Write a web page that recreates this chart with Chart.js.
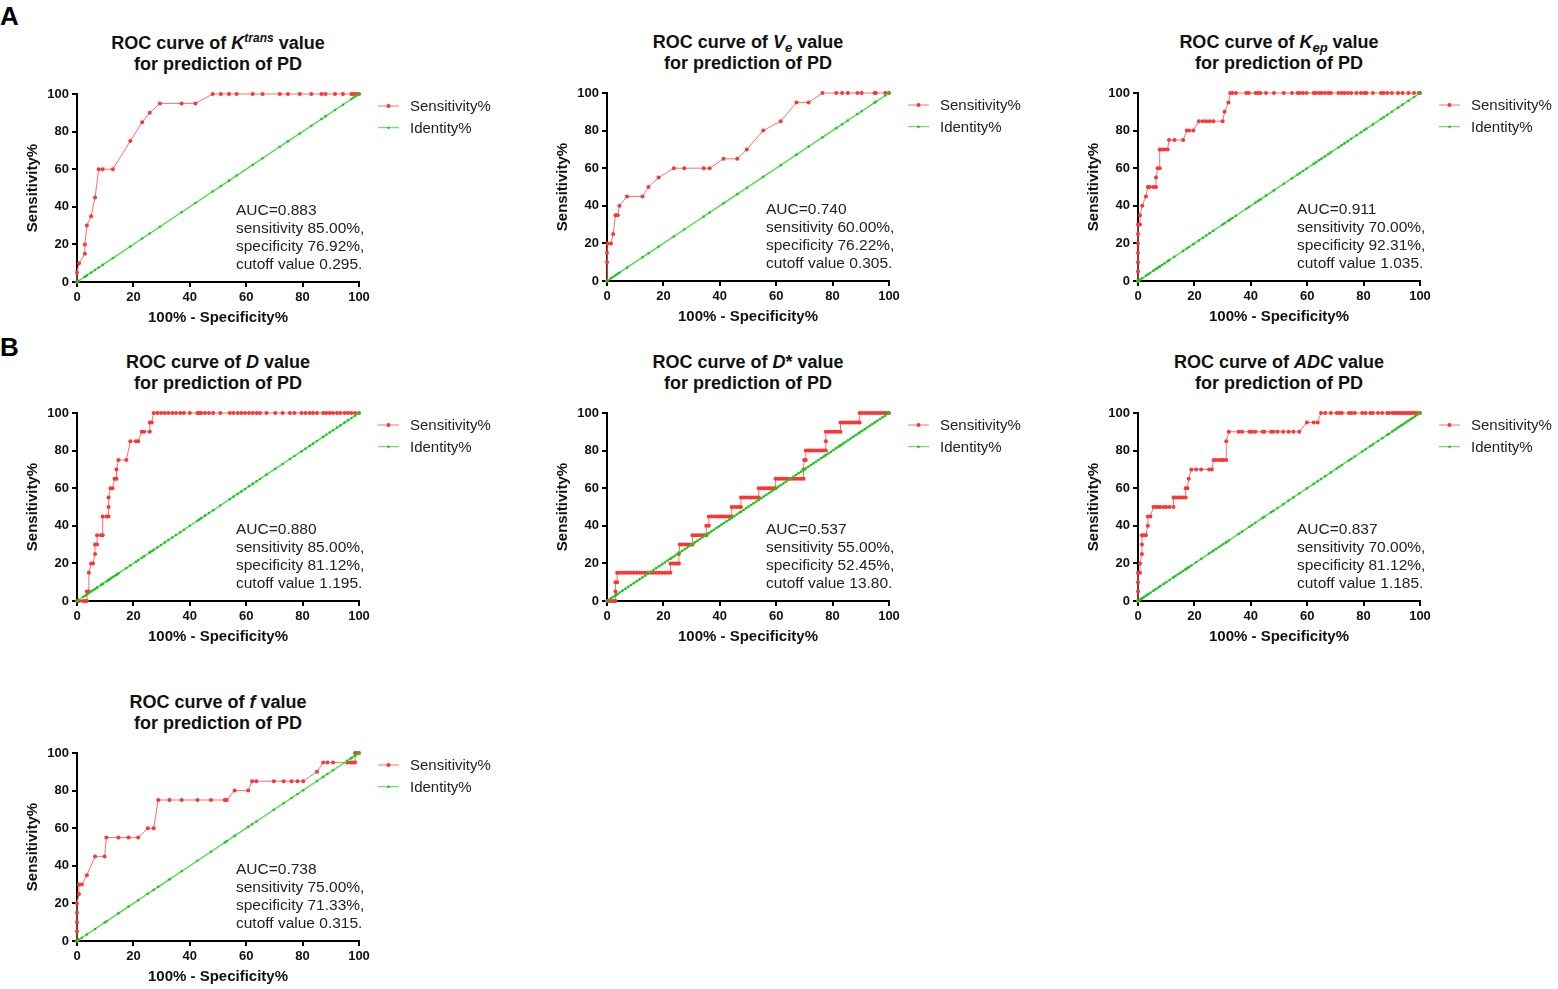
<!DOCTYPE html>
<html>
<head>
<meta charset="utf-8">
<script src="https://cdn.jsdelivr.net/npm/chart.js@4.4.1/dist/chart.umd.min.js"></script>
<style>
body{margin:0;background:#fff;width:1558px;height:989px;position:relative;overflow:hidden;font-family:"Liberation Sans",Arial,sans-serif;}
canvas{position:absolute;}
.ttl{position:absolute;width:400px;text-align:center;font-weight:bold;font-size:18px;line-height:21px;color:#111;}
.ttl sup{font-size:12px;line-height:0;vertical-align:7px;}
.ttl sub{font-size:13px;line-height:0;vertical-align:-4px;}
.lab{position:absolute;left:0;font-weight:bold;font-size:26px;line-height:26px;color:#000;}
</style>
</head>
<body>
<div class="lab" style="top:3px">A</div>
<div class="lab" style="top:334px">B</div>
<script>
// tick labels shared by both axes
var axisTicks = [0, 20, 40, 60, 80, 100];

// Ktrans
var ktransX = [0,0,0.7,2.8,2.8,3.5,5,6.4,7.7,9.1,
  12.7,18.9,23.1,25.8,29.4,37.1,42,48.1,51,53.9,
  56.6,62.3,65.8,71.9,74.8,79,83.1,86.7,88.1,91.5,
  94.3,97.3,98.1,99,100];
var ktransSens = [0,5,10,15,20,30,35,45,60,60,
  60,75,85,90,95,95,95,100,100,100,
  100,100,100,100,100,100,100,100,100,100,
  100,100,100,100,100];
var ktransNote = ['AUC=0.883', 'sensitivity 85.00%,', 'specificity 76.92%,', 'cutoff value 0.295.'];

// Ve
var veX = [0,0,0,0.2,1.4,2.2,3,3.8,4.4,7.1,
  12.6,14.7,18.3,23.7,27.4,34.3,36.4,41.3,46.2,49.6,
  55.4,61.6,67.2,71.5,76.4,81.3,83.4,85.4,88.8,90.3,
  94.9,95.3,98.7,100];
var veSens = [0,10,15,20,20,25,35,35,40,45,
  45,50,55,60,60,60,60,65,65,70,
  80,85,95,95,100,100,100,100,100,100,
  100,100,100,100];
var veNote = ['AUC=0.740', 'sensitivity 60.00%,', 'specificity 76.22%,', 'cutoff value 0.305.'];

// Kep
var kepX = [0,0,0,0,0,0,0,0.7,0.7,1.5,
  2.8,3.5,4.2,5.5,6.4,6.4,7,7.7,7.7,8.5,
  9.4,10.5,11,12.9,16,17.3,18.1,19.6,21.6,23,
  24.2,25.4,26.7,30,30.7,32.1,32.7,33.5,34.7,38.4,
  39.3,41.7,42.6,43.4,45.4,48.2,51.7,54.6,56.6,57.4,
  58.5,59.8,62.3,63.1,64.2,65.1,66.3,67.5,68.4,71.1,
  72.2,73.2,74.4,75.6,77.5,79.1,80.3,81,83.3,86.2,
  87.1,88.4,90,92.2,93.8,95.9,97.9,99.6,100];
var kepSens = [0,5,10,15,20,25,30,30,35,40,
  45,50,50,50,50,55,60,60,70,70,
  70,70,75,75,75,80,80,80,85,85,
  85,85,85,85,90,95,100,100,100,100,
  100,100,100,100,100,100,100,100,100,100,
  100,100,100,100,100,100,100,100,100,100,
  100,100,100,100,100,100,100,100,100,100,
  100,100,100,100,100,100,100,100,100];
var kepNote = ['AUC=0.911', 'sensitivity 70.00%,', 'specificity 92.31%,', 'cutoff value 1.035.'];

// D
var dX = [0,0.7,2.1,2.8,3.5,3.5,4.2,4.2,5,5.7,
  6.4,6.4,7.1,7.1,8.5,9.1,9.1,10.5,11.2,11.2,
  11.2,11.9,12.6,13.3,14,14,14.7,17.5,18.9,20.9,
  21.7,23,23.8,25.8,25.8,26.5,27.2,28.5,29.8,31.1,
  32.4,33.8,35.1,36.6,37.9,40,42.7,43.4,44.1,45.4,
  46.8,48.3,50.8,54.2,55.5,57,58.3,59.6,61,62.3,
  63.7,64.9,67.2,70.3,72.9,75.5,77.1,79.6,81,82.5,
  83.7,85.1,87.3,88.4,89.6,90.8,92.2,93.4,94.9,96.1,
  97.3,98.6,100];
var dSens = [0,0,0,0,0,5,5,15,20,20,
  25,30,30,35,35,35,45,45,45,50,
  55,60,60,65,65,70,75,75,85,85,
  85,90,90,90,95,95,100,100,100,100,
  100,100,100,100,100,100,100,100,100,100,
  100,100,100,100,100,100,100,100,100,100,
  100,100,100,100,100,100,100,100,100,100,
  100,100,100,100,100,100,100,100,100,100,
  100,100,100];
var dNote = ['AUC=0.880', 'sensitivity 85.00%,', 'specificity 81.12%,', 'cutoff value 1.195.'];

// D* (one line per step)
var dstarX = [0,0.7,1.4,2.1,2.8,3,
  3,
  3,3.6,
  3.6,4.5,5.5,6.5,7.5,8.5,9.5,10.5,11.5,12.5,13.5,14.5,15.5,16.5,17.5,18.5,19.5,20.5,21.5,22.5,
  22.5,23.3,24.1,24.9,25.5,
  25.5,
  25.8,26.7,27.6,28.5,29.4,30.3,
  30.3,31.2,32.1,33,33.9,34.8,35.2,
  35.2,36.1,
  36.1,37,37.9,38.8,39.7,40.6,41.5,42.4,43.3,44.2,
  44.2,45.1,46,46.9,47.5,
  47.5,48.4,49.3,50.2,51.1,52,52.9,53.8,
  53.8,54.7,55.6,56.5,57.4,58.3,59.2,59.8,
  59.8,60.7,61.6,62.5,63.4,64.3,65.2,66.1,67,67.9,68.8,69.7,
  69.7,
  69.9,70.5,
  70.5,71.4,72.3,73.2,74.1,75,75.9,76.8,77.6,
  77.6,
  77.6,78.5,79.4,80.3,81.2,82.1,82.8,
  82.8,83.7,84.6,85.5,86.4,87.3,88.2,89.1,89.6,
  89.6,90.5,91.4,92.3,93.2,94.1,95,95.9,96.8,97.7,98.6,99.5,100];
var dstarSens = [0,0,0,0,0,0,
  5,
  10,10,
  15,15,15,15,15,15,15,15,15,15,15,15,15,15,15,15,15,15,15,15,
  20,20,20,20,20,
  25,
  30,30,30,30,30,30,
  35,35,35,35,35,35,35,
  40,40,
  45,45,45,45,45,45,45,45,45,45,
  50,50,50,50,50,
  55,55,55,55,55,55,55,55,
  60,60,60,60,60,60,60,60,
  65,65,65,65,65,65,65,65,65,65,65,65,
  70,
  75,75,
  80,80,80,80,80,80,80,80,80,
  85,
  90,90,90,90,90,90,90,
  95,95,95,95,95,95,95,95,95,
  100,100,100,100,100,100,100,100,100,100,100,100,100];
var dstarNote = ['AUC=0.537', 'sensitivity 55.00%,', 'specificity 52.45%,', 'cutoff value 13.80.'];

// ADC
var adcX = [0,0,0,0,0.7,0.7,1.4,1.4,1.4,2.1,
  2.8,3.5,3.5,4.4,5.5,6.3,7.2,7.9,9.1,10,
  11.2,12.6,12.6,13.3,14.2,15,15.9,16.9,16.9,17.5,
  18,18.9,20.6,22.4,25.2,26.2,26.8,27.7,28.7,29.5,
  30.3,31.3,31.3,32.2,35.7,36.9,39.5,40.4,41.6,44.2,
  44.8,47.2,48,49.5,51.5,53.4,55.1,57.2,59.9,62.3,
  63.7,64.9,66.4,68.4,70.5,71.4,72.3,74.8,75.7,76.9,
  79.5,80.7,82.4,83.3,85.1,86.6,88.4,89,90.2,91,
  91.8,92.6,93.4,94.2,95,95.8,96.6,97.4,98.2,99,
  100];
var adcSens = [0,5,10,15,15,20,25,30,35,35,
  35,40,45,45,50,50,50,50,50,50,
  50,50,55,55,55,55,55,55,60,60,
  65,70,70,70,70,70,75,75,75,75,
  75,75,85,90,90,90,90,90,90,90,
  90,90,90,90,90,90,90,90,95,95,
  95,100,100,100,100,100,100,100,100,100,
  100,100,100,100,100,100,100,100,100,100,
  100,100,100,100,100,100,100,100,100,100,
  100];
var adcNote = ['AUC=0.837', 'sensitivity 70.00%,', 'specificity 81.12%,', 'cutoff value 1.185.'];

// f
var fX = [0,0,0,0,0,0.7,0.7,1.7,3.5,6.4,
  9.8,10.4,14.7,18.3,21.7,25.1,27.2,28.8,32.8,37.1,
  42.7,47.5,52.4,53.1,55.9,60.7,62.1,63.6,69.8,73.3,
  76.1,78.2,80.2,85.1,87.3,88.8,90.8,95.8,97,97.6,
  98.6,98.6,99.3,100];
var fSens = [0,5,10,15,20,25,30,30,35,45,
  45,55,55,55,55,60,60,75,75,75,
  75,75,75,75,80,80,85,85,85,85,
  85,85,85,90,95,95,95,95,95,95,
  95,100,100,100];
var fNote = ['AUC=0.738', 'sensitivity 75.00%,', 'specificity 71.33%,', 'cutoff value 0.315.'];

var seriesNames = ['Sensitivity%', 'Identity%'];

// layout: plot area top-left corner of each panel on the page
var panels = [
  {x: ktransX, y: ktransSens, note: ktransNote, left: 77,   top: 94,  title: 'ROC curve of <i>K</i><sup><i>trans</i></sup> value<br>for prediction of PD'},
  {x: veX,     y: veSens,     note: veNote,     left: 607,  top: 93,  title: 'ROC curve of <i>V<sub>e</sub></i> value<br>for prediction of PD'},
  {x: kepX,    y: kepSens,    note: kepNote,    left: 1138, top: 93,  title: 'ROC curve of <i>K<sub>ep</sub></i> value<br>for prediction of PD'},
  {x: dX,      y: dSens,      note: dNote,      left: 77,   top: 413, title: 'ROC curve of <i>D</i> value<br>for prediction of PD'},
  {x: dstarX,  y: dstarSens,  note: dstarNote,  left: 607,  top: 413, title: 'ROC curve of <i>D</i>* value<br>for prediction of PD'},
  {x: adcX,    y: adcSens,    note: adcNote,    left: 1138, top: 413, title: 'ROC curve of <i>ADC</i> value<br>for prediction of PD'},
  {x: fX,      y: fSens,      note: fNote,      left: 77,   top: 753, title: 'ROC curve of <i>f</i> value<br>for prediction of PD'}
];

Chart.defaults.font.family = '"Liberation Sans", Arial, sans-serif';
Chart.defaults.color = '#111';

var W = 524, H = 250, YW = 77, XH = 50, PT = 12, PW = 282;

// legend on the right + AUC text inside plot
var panelDecor = {
  id: 'panelDecor',
  afterDraw: function(chart, args, opts) {
    var ctx = chart.ctx, a = chart.chartArea;
    ctx.save();
    chart.data.datasets.forEach(function(ds, i) {
      var ly = a.top + 12 + i * 21.7;
      ctx.strokeStyle = ds.borderColor;
      ctx.lineWidth = 1;
      ctx.beginPath();
      ctx.moveTo(a.right + 19, ly);
      ctx.lineTo(a.right + 40, ly);
      ctx.stroke();
      ctx.fillStyle = ds.pointBackgroundColor;
      ctx.beginPath();
      ctx.arc(a.right + 29.5, ly, ds.pointRadius, 0, Math.PI * 2);
      ctx.fill();
      ctx.fillStyle = '#222';
      ctx.font = '15px "Liberation Sans", Arial, sans-serif';
      ctx.textBaseline = 'middle';
      ctx.fillText(ds.label, a.right + 51, ly + 1);
    });
    ctx.font = '15.5px "Liberation Sans", Arial, sans-serif';
    ctx.fillStyle = '#222';
    ctx.textBaseline = 'middle';
    opts.lines.forEach(function(t, i) {
      ctx.fillText(t, a.left + 159, a.top + 117 + i * 18);
    });
    ctx.restore();
  }
};

function axis(titleText, isY) {
  return {
    type: 'linear', min: 0, max: 100,
    afterBuildTicks: function(s) { s.ticks = axisTicks.map(function(v) { return {value: v}; }); },
    afterFit: function(s) { if (isY) s.width = YW; else s.height = XH; },
    border: {display: true, color: '#000', width: 2},
    grid: {display: true, drawOnChartArea: false, drawTicks: true, tickLength: 5, color: '#000', lineWidth: 2},
    ticks: {padding: 3, color: '#111', font: {size: 13, weight: 'bold'}, maxRotation: 0},
    title: {display: true, text: titleText, color: '#111', font: {size: 15, weight: 'bold'},
            padding: isY ? {top: 24, bottom: 0} : {top: 0, bottom: 5}}
  };
}

panels.forEach(function(p) {
  var cv = document.createElement('canvas');
  cv.width = W; cv.height = H;
  cv.style.left = (p.left - YW) + 'px';
  cv.style.top = (p.top - PT) + 'px';
  cv.style.width = W + 'px'; cv.style.height = H + 'px';
  document.body.appendChild(cv);

  var t = document.createElement('div');
  t.className = 'ttl';
  t.style.left = (p.left + PW / 2 - 200) + 'px';
  t.style.top = (p.top - 61) + 'px';
  t.innerHTML = p.title;
  document.body.appendChild(t);

  var roc = p.x.map(function(v, i) { return {x: v, y: p.y[i]}; });
  var ident = p.x.map(function(v) { return {x: v, y: v}; });

  new Chart(cv, {
    type: 'scatter',
    data: {
      datasets: [
        {label: seriesNames[0], data: roc, showLine: true, borderColor: '#ff6e6e', borderWidth: 1,
         pointRadius: 2, pointBackgroundColor: '#ff3434', pointBorderWidth: 0, clip: false, order: 1},
        {label: seriesNames[1], data: ident, showLine: true, borderColor: '#3fe23f', borderWidth: 1.3,
         pointRadius: 1.3, pointBackgroundColor: '#1ec41e', pointBorderWidth: 0, clip: false, order: 0}
      ]
    },
    options: {
      responsive: false, animation: false, devicePixelRatio: 1,
      layout: {padding: {top: PT, right: W - YW - PW, left: 0, bottom: 0}},
      scales: {
        x: axis('100% - Specificity%', false),
        y: axis('Sensitivity%', true)
      },
      plugins: {legend: {display: false}, tooltip: {enabled: false}, panelDecor: {lines: p.note}}
    },
    plugins: [panelDecor]
  });
});
</script>
</body>
</html>
